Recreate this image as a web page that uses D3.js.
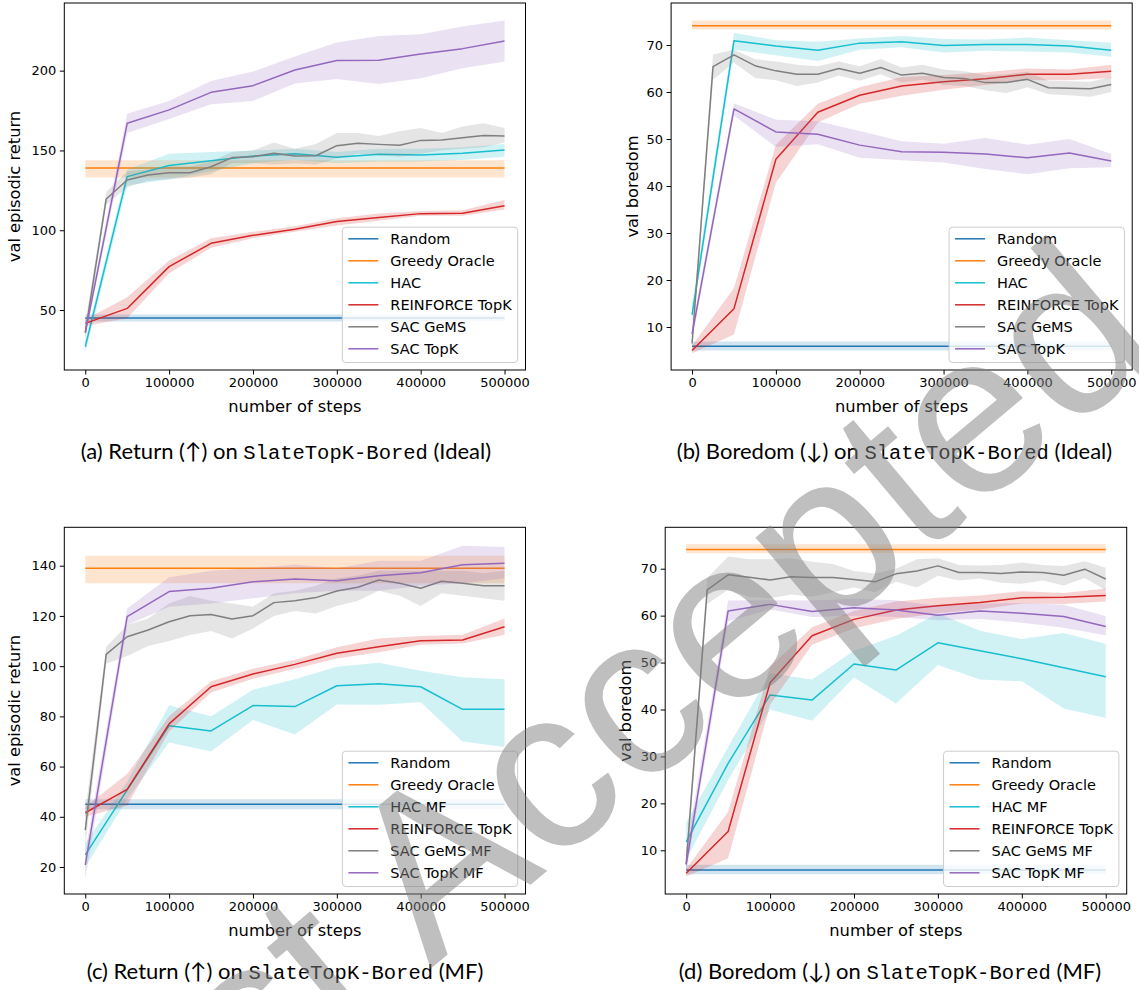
<!DOCTYPE html>
<html>
<head>
<meta charset="utf-8">
<script src="https://cdn.jsdelivr.net/npm/d3@7"></script>
<style>
  body { margin: 0; background: #fff; }
  svg { display: block; }
</style>
</head>
<body>
<svg id="fig" width="1139" height="990"></svg>
<script>
// ---------- steps (x values) ----------
const STEPS_FLAT = [0, 500000];
const STEPS_50K = [0, 50000, 100000, 150000, 200000, 250000, 300000, 350000, 400000, 450000, 500000];
const STEPS_25K = [0, 25000, 50000, 75000, 100000, 125000, 150000, 175000, 200000, 225000, 250000,
                   275000, 300000, 325000, 350000, 375000, 400000, 425000, 450000, 475000, 500000];
const X_TICKS = [0, 100000, 200000, 300000, 400000, 500000];

// ---------- (a) Return, SlateTopK-Bored (Ideal) ----------
const A_RANDOM_MEAN = [45, 45], A_RANDOM_LO = [42.8, 42.8], A_RANDOM_HI = [47.2, 47.2];
const A_GREEDY_MEAN = [139, 139], A_GREEDY_LO = [133, 133], A_GREEDY_HI = [143.8, 143.8];
const A_HAC_MEAN = [27, 133.6, 140.5, 143.6, 146.5, 148, 145.7, 147.6, 147.2, 148.2, 150.3];
const A_HAC_LO   = [23, 128, 132, 137, 142, 144, 142, 143, 143, 144, 146];
const A_HAC_HI   = [31, 138, 148, 149, 150, 151, 149, 151, 151, 152, 154];
const A_REINF_MEAN = [41.6, 51, 77.2, 91.8, 96.8, 100.6, 105.4, 108, 110.4, 110.6, 115.4];
const A_REINF_LO   = [40, 44.8, 73, 89, 95, 99, 103, 106, 109, 109, 113];
const A_REINF_HI   = [44, 58, 81, 95, 99, 102.5, 107.5, 110.5, 112, 112.5, 119];
const A_GEMS_MEAN = [35.8, 119.6, 131.5, 134.6, 136, 136, 139.8, 145.5, 146.1, 148.2, 146.5,
                     146.7, 153, 154.5, 153.8, 153.2, 156.3, 156.6, 158, 159.3, 159];
const A_GEMS_LO   = [30, 116, 127, 131, 132, 133, 135, 142, 142, 141, 142,
                     141, 145, 148, 147, 146, 148, 150, 151, 152, 155];
const A_GEMS_HI   = [42, 124, 137, 138, 140, 140, 143, 149, 150, 155, 151,
                     154, 161, 161, 159, 162, 164, 161, 165, 167, 164];
const A_TOPK_MEAN = [35.8, 167, 175.4, 186.4, 190.6, 200.4, 206.3, 206.5, 210.5, 213.8, 218.6];
const A_TOPK_LO   = [33, 161, 169.7, 179, 181, 192, 194.8, 191.7, 195.2, 201.5, 205.7];
const A_TOPK_HI   = [39, 173, 181, 193.5, 199.4, 208.8, 217.6, 221.7, 222.8, 227.6, 231.4];
const A_Y_TICKS = [50, 100, 150, 200];

// ---------- (b) Boredom, SlateTopK-Bored (Ideal) ----------
const B_RANDOM_MEAN = [5.9, 5.9], B_RANDOM_LO = [5.0, 5.0], B_RANDOM_HI = [6.9, 6.9];
const B_GREEDY_MEAN = [74.1, 74.1], B_GREEDY_LO = [73.3, 73.3], B_GREEDY_HI = [75.2, 75.2];
const B_HAC_MEAN = [12.6, 70.9, 69.8, 68.9, 70.4, 70.7, 69.9, 70.1, 70.1, 69.8, 68.9];
const B_HAC_LO   = [11, 69, 67.8, 66.6, 69, 69.5, 68.4, 68.8, 68.6, 68.4, 67.5];
const B_HAC_HI   = [15, 72.6, 71, 70.7, 71.4, 71.9, 71.3, 71.2, 71.6, 71.0, 70.5];
const B_REINF_MEAN = [5, 13.9, 45.7, 55.7, 59.3, 61.3, 62.2, 62.8, 63.8, 63.8, 64.4];
const B_REINF_LO   = [4.4, 8.4, 40.7, 53.5, 57.5, 59.2, 60.5, 61.5, 62.5, 62.5, 63];
const B_REINF_HI   = [6, 18.3, 48.8, 57.5, 61, 63.2, 63.6, 64.2, 65, 64.8, 65.8];
const B_GEMS_MEAN = [6.5, 65.4, 67.9, 65.6, 64.5, 63.8, 63.8, 65, 64, 65.2, 63.6,
                     64, 63.1, 62.9, 62, 62, 62.7, 60.9, 60.8, 60.7, 61.6];
const B_GEMS_LO   = [5.5, 62.6, 66.3, 63, 62.5, 61.3, 62, 63.5, 62.4, 63.8, 62,
                     62.6, 61.5, 61.3, 60.4, 59.8, 61, 59.5, 59.3, 59, 60];
const B_GEMS_HI   = [8, 68, 69, 67, 66.5, 65.8, 65.5, 66.5, 65.5, 67, 65.2,
                     65.8, 64.8, 64.4, 63.6, 63.8, 64.3, 62.4, 62.3, 62.2, 63.2];
const B_TOPK_MEAN = [8.5, 56.4, 51.5, 51, 48.7, 47.3, 47.2, 46.8, 46, 47, 45.3];
const B_TOPK_LO   = [7, 55, 48.3, 48.9, 46, 45.5, 45, 43.6, 42.5, 43.8, 44];
const B_TOPK_HI   = [10, 57.6, 54.1, 53.8, 51.7, 49.5, 49, 50.2, 48.8, 50, 46.8];
const B_Y_TICKS = [10, 20, 30, 40, 50, 60, 70];

// ---------- (c) Return, SlateTopK-Bored (MF) ----------
const C_RANDOM_MEAN = [45, 45], C_RANDOM_LO = [43, 43], C_RANDOM_HI = [47, 47];
const C_GREEDY_MEAN = [139, 139], C_GREEDY_LO = [133, 133], C_GREEDY_HI = [144, 144];
const C_HAC_MEAN = [24.8, 50.7, 76.3, 74.2, 84.3, 83.9, 92.2, 93, 91.8, 82.8, 82.8];
const C_HAC_LO   = [20, 47, 69.6, 66, 78.6, 72.8, 84.7, 84.6, 85.6, 70, 67.8];
const C_HAC_HI   = [29.5, 54, 84.4, 80, 90.6, 94.8, 99.8, 101.4, 98.2, 95.6, 94.8];
const C_REINF_MEAN = [41.6, 50.9, 77, 91.8, 96.9, 100.7, 105.1, 107.7, 110.1, 110.4, 115.7];
const C_REINF_LO   = [40, 44.5, 74, 89.5, 95, 99, 103, 105.5, 108.5, 109, 112.5];
const C_REINF_HI   = [44, 57, 80, 94, 99, 102.5, 107.5, 111, 112, 112.5, 119];
const C_GEMS_MEAN = [34.7, 104.7, 111.7, 114.4, 117.7, 120.1, 120.6, 118.8, 120.1, 125.3, 126,
                     127.3, 129.9, 131.4, 134.3, 133, 131, 133.8, 133, 132, 132];
const C_GEMS_LO   = [28, 101, 104, 108, 110, 112.4, 114, 111, 115, 120, 122,
                     121, 124, 126, 130, 128, 124, 129, 128, 127, 126];
const C_GEMS_HI   = [42, 107.7, 116.4, 119, 125, 127.9, 126, 125, 123.7, 129, 130,
                     132, 135, 136, 138, 138, 138, 138, 138, 137, 138];
const C_TOPK_MEAN = [20.8, 119.7, 129.7, 131, 133.6, 134.7, 134, 136, 137.2, 140.4, 141];
const C_TOPK_LO   = [15, 116.4, 123.7, 125, 127, 129, 130, 130, 132, 133, 135];
const C_TOPK_HI   = [26, 123, 135.4, 138, 139, 140.5, 139, 142, 142, 148, 147.5];
const C_Y_TICKS = [20, 40, 60, 80, 100, 120, 140];

// ---------- (d) Boredom, SlateTopK-Bored (MF) ----------
const D_RANDOM_MEAN = [5.8, 5.8], D_RANDOM_LO = [4.9, 4.9], D_RANDOM_HI = [6.9, 6.9];
const D_GREEDY_MEAN = [74.1, 74.1], D_GREEDY_LO = [73.3, 73.3], D_GREEDY_HI = [75.2, 75.2];
const D_HAC_MEAN = [11.8, 28.5, 43.1, 42, 49.7, 48.4, 54.2, 52.5, 50.8, 48.9, 47];
const D_HAC_LO   = [8, 25, 40, 37.6, 46.8, 41.3, 49.5, 46.4, 46, 40.2, 38.2];
const D_HAC_HI   = [16, 32, 47.7, 46.4, 52.5, 55.7, 60.5, 56.8, 55, 56.3, 54];
const D_REINF_MEAN = [5.1, 14, 45.7, 55.7, 59.2, 61.2, 62.1, 62.8, 63.8, 63.9, 64.3];
const D_REINF_LO   = [4.4, 8.3, 41, 53.8, 57.3, 59.3, 60.5, 61.3, 62.6, 62.5, 63];
const D_REINF_HI   = [6, 18.2, 49.1, 57.5, 61, 63, 63.8, 64.3, 65.2, 64.8, 65.8];
const D_GEMS_MEAN = [7, 65.5, 68.7, 68.2, 67.6, 68.3, 68.1, 68.1, 67.7, 67.2, 68.9,
                     69.5, 70.6, 69.2, 69.2, 69, 69.3, 69.2, 68.6, 69.9, 67.8];
const D_GEMS_LO   = [5, 62.5, 65.5, 64, 63.7, 64.5, 64, 65, 66, 65, 67.2,
                     66, 68.5, 67.5, 67.9, 67, 66.8, 67.5, 66.4, 68, 65.4];
const D_GEMS_HI   = [9, 68, 72.6, 72, 72, 72.2, 71.5, 71, 69.5, 69, 70,
                     72, 72.2, 70.8, 70.7, 70.8, 71.3, 70.8, 70.6, 71.6, 70.2];
const D_TOPK_MEAN = [7, 61, 62.4, 60.9, 61.7, 61.2, 60.1, 61, 60.5, 59.8, 57.7];
const D_TOPK_LO   = [5, 58.8, 61.3, 59.7, 60, 59.7, 59, 59.3, 58.5, 57.4, 55.8];
const D_TOPK_HI   = [10, 63.2, 63.3, 63.2, 63.6, 63.3, 62, 62.6, 62.7, 62.3, 59.9];
const D_Y_TICKS = [10, 20, 30, 40, 50, 60, 70];

// ---------- colours (matplotlib tab10) ----------
const C_BLUE = "#1f77b4", C_ORANGE = "#ff7f0e", C_CYAN = "#17becf",
      C_RED = "#d62728", C_GRAY = "#7f7f7f", C_PURPLE = "#9467bd";

function series(name, color, steps, mean, lo, hi) {
  return { name, color, rows: steps.map((s, i) => ({ s, m: mean[i], lo: lo[i], hi: hi[i] })) };
}

const panels = [
  {
    box: { l: 64.3, t: 3, r: 525.5, b: 370 }, yLim: [12.4, 242.4], yTicks: A_Y_TICKS,
    yLabel: "val episodic return", yLabelX: 14,
    caption: { x: 286, y: 459, tag: "(a) Return (\u2191) on ", tail: " (Ideal)" },
    series: [
      series("Random", C_BLUE, STEPS_FLAT, A_RANDOM_MEAN, A_RANDOM_LO, A_RANDOM_HI),
      series("Greedy Oracle", C_ORANGE, STEPS_FLAT, A_GREEDY_MEAN, A_GREEDY_LO, A_GREEDY_HI),
      series("HAC", C_CYAN, STEPS_50K, A_HAC_MEAN, A_HAC_LO, A_HAC_HI),
      series("REINFORCE TopK", C_RED, STEPS_50K, A_REINF_MEAN, A_REINF_LO, A_REINF_HI),
      series("SAC GeMS", C_GRAY, STEPS_25K, A_GEMS_MEAN, A_GEMS_LO, A_GEMS_HI),
      series("SAC TopK", C_PURPLE, STEPS_50K, A_TOPK_MEAN, A_TOPK_LO, A_TOPK_HI)
    ]
  },
  {
    box: { l: 671.1, t: 3, r: 1132.2, b: 370 }, yLim: [0.85, 78.94], yTicks: B_Y_TICKS,
    yLabel: "val boredom", yLabelX: 632,
    caption: { x: 894.5, y: 459, tag: "(b) Boredom (\u2193) on ", tail: " (Ideal)" },
    series: [
      series("Random", C_BLUE, STEPS_FLAT, B_RANDOM_MEAN, B_RANDOM_LO, B_RANDOM_HI),
      series("Greedy Oracle", C_ORANGE, STEPS_FLAT, B_GREEDY_MEAN, B_GREEDY_LO, B_GREEDY_HI),
      series("HAC", C_CYAN, STEPS_50K, B_HAC_MEAN, B_HAC_LO, B_HAC_HI),
      series("REINFORCE TopK", C_RED, STEPS_50K, B_REINF_MEAN, B_REINF_LO, B_REINF_HI),
      series("SAC GeMS", C_GRAY, STEPS_25K, B_GEMS_MEAN, B_GEMS_LO, B_GEMS_HI),
      series("SAC TopK", C_PURPLE, STEPS_50K, B_TOPK_MEAN, B_TOPK_LO, B_TOPK_HI)
    ]
  },
  {
    box: { l: 64.3, t: 527.3, r: 525.5, b: 894 }, yLim: [9.25, 155.3], yTicks: C_Y_TICKS,
    yLabel: "val episodic return", yLabelX: 14,
    caption: { x: 285, y: 979, tag: "(c) Return (\u2191) on ", tail: " (MF)" },
    series: [
      series("Random", C_BLUE, STEPS_FLAT, C_RANDOM_MEAN, C_RANDOM_LO, C_RANDOM_HI),
      series("Greedy Oracle", C_ORANGE, STEPS_FLAT, C_GREEDY_MEAN, C_GREEDY_LO, C_GREEDY_HI),
      series("HAC MF", C_CYAN, STEPS_50K, C_HAC_MEAN, C_HAC_LO, C_HAC_HI),
      series("REINFORCE TopK", C_RED, STEPS_50K, C_REINF_MEAN, C_REINF_LO, C_REINF_HI),
      series("SAC GeMS MF", C_GRAY, STEPS_25K, C_GEMS_MEAN, C_GEMS_LO, C_GEMS_HI),
      series("SAC TopK MF", C_PURPLE, STEPS_50K, C_TOPK_MEAN, C_TOPK_LO, C_TOPK_HI)
    ]
  },
  {
    box: { l: 665.2, t: 527.3, r: 1126.7, b: 894 }, yLim: [0.69, 78.82], yTicks: D_Y_TICKS,
    yLabel: "val boredom", yLabelX: 625,
    caption: { x: 890, y: 979, tag: "(d) Boredom (\u2193) on ", tail: " (MF)" },
    series: [
      series("Random", C_BLUE, STEPS_FLAT, D_RANDOM_MEAN, D_RANDOM_LO, D_RANDOM_HI),
      series("Greedy Oracle", C_ORANGE, STEPS_FLAT, D_GREEDY_MEAN, D_GREEDY_LO, D_GREEDY_HI),
      series("HAC MF", C_CYAN, STEPS_50K, D_HAC_MEAN, D_HAC_LO, D_HAC_HI),
      series("REINFORCE TopK", C_RED, STEPS_50K, D_REINF_MEAN, D_REINF_LO, D_REINF_HI),
      series("SAC GeMS MF", C_GRAY, STEPS_25K, D_GEMS_MEAN, D_GEMS_LO, D_GEMS_HI),
      series("SAC TopK MF", C_PURPLE, STEPS_50K, D_TOPK_MEAN, D_TOPK_LO, D_TOPK_HI)
    ]
  }
];

const FONT = "'DejaVu Sans', sans-serif";
const TICK_SIZE = 13, LABEL_SIZE = 16.3, LEGEND_SIZE = 14.5;
const svg = d3.select("#fig");
svg.append("rect").attr("width", 1139).attr("height", 990).attr("fill", "#fff");

panels.forEach((p, pi) => {
  const { l, t, r, b } = p.box;
  const x = d3.scaleLinear().domain([-25000, 525000]).range([l, r]);
  const y = d3.scaleLinear().domain(p.yLim).range([b, t]);
  const g = svg.append("g");

  const clipId = "clip" + pi;
  g.append("clipPath").attr("id", clipId)
    .append("rect").attr("x", l).attr("y", t).attr("width", r - l).attr("height", b - t);

  const plot = g.append("g").attr("clip-path", `url(#${clipId})`);
  const area = d3.area().x(d => x(d.s)).y0(d => y(d.lo)).y1(d => y(d.hi));
  const line = d3.line().x(d => x(d.s)).y(d => y(d.m));

  p.series.forEach(s => {
    plot.append("path").attr("d", area(s.rows))
      .attr("fill", s.color).attr("fill-opacity", 0.2).attr("stroke", "none");
    plot.append("path").attr("d", line(s.rows))
      .attr("fill", "none").attr("stroke", s.color).attr("stroke-width", 1.5)
      .attr("stroke-linejoin", "round");
  });

  // axes
  const xAxis = d3.axisBottom(x).tickValues(X_TICKS).tickFormat(d3.format("d"))
    .tickSize(4.5).tickPadding(3.5);
  const yAxis = d3.axisLeft(y).tickValues(p.yTicks).tickFormat(d3.format("d"))
    .tickSize(4.5).tickPadding(3.5);
  const gx = g.append("g").attr("transform", `translate(0,${b})`).call(xAxis);
  const gy = g.append("g").attr("transform", `translate(${l},0)`).call(yAxis);
  [gx, gy].forEach(ax => {
    ax.select(".domain").remove();
    ax.selectAll(".tick line").attr("stroke", "#000").attr("stroke-width", 1);
    ax.selectAll(".tick text").attr("fill", "#000")
      .style("font-family", FONT).style("font-size", TICK_SIZE + "px");
  });

  // frame
  g.append("rect").attr("x", l).attr("y", t).attr("width", r - l).attr("height", b - t)
    .attr("fill", "none").attr("stroke", "#000").attr("stroke-width", 1);

  // axis labels
  g.append("text").attr("x", (l + r) / 2).attr("y", b + 36)
    .attr("dominant-baseline", "central").attr("text-anchor", "middle")
    .style("font-family", FONT).style("font-size", LABEL_SIZE + "px")
    .text("number of steps");
  g.append("text")
    .attr("transform", `translate(${p.yLabelX},${(t + b) / 2}) rotate(-90)`)
    .attr("dominant-baseline", "central").attr("text-anchor", "middle")
    .style("font-family", FONT).style("font-size", LABEL_SIZE + "px")
    .text(p.yLabel);

  // legend (lower right)
  const leg = g.append("g");
  const pad = 6, handle = 30, gap = 12, rowH = 22, topPad = 11.6, botPad = 13.7;
  const texts = leg.selectAll("text.lab").data(p.series).join("text").attr("class", "lab")
    .style("font-family", FONT).style("font-size", LEGEND_SIZE + "px")
    .attr("dominant-baseline", "central").text(d => d.name);
  let maxW = 0;
  texts.each(function () { maxW = Math.max(maxW, this.getComputedTextLength()); });
  const lw = pad + handle + gap + maxW + pad;
  const lh = topPad + rowH * (p.series.length - 1) + botPad;
  const lx = r - 7.8 - lw, ly = b - 7.5 - lh;
  leg.insert("rect", "text").attr("x", lx).attr("y", ly).attr("width", lw).attr("height", lh)
    .attr("rx", 3.5).attr("fill", "#fff").attr("fill-opacity", 0.8)
    .attr("stroke", "#cccccc").attr("stroke-width", 1);
  p.series.forEach((s, i) => {
    const cy = ly + topPad + rowH * i;
    leg.append("line").attr("x1", lx + pad).attr("x2", lx + pad + handle)
      .attr("y1", cy).attr("y2", cy).attr("stroke", s.color).attr("stroke-width", 1.5);
  });
  texts.attr("x", lx + pad + handle + gap).attr("y", (d, i) => ly + topPad + rowH * i);

  // caption
  const cap = svg.append("text").attr("x", p.caption.x).attr("y", p.caption.y)
    .attr("text-anchor", "middle").attr("fill", "#000")
    .style("font-family", "Lato, 'Open Sans', sans-serif").style("font-size", "22px");
  cap.append("tspan").text(p.caption.tag);
  cap.append("tspan").style("font-family", "'Liberation Mono', 'DejaVu Sans Mono', monospace")
    .style("font-size", "20.5px").text("SlateTopK-Bored");
  cap.append("tspan").text(p.caption.tail);
});

// diagonal page stamp
const stamp = { x: 68, y: 1273, angle: -40, size: 230 };
svg.append("text")
  .attr("transform", `translate(${stamp.x},${stamp.y}) rotate(${stamp.angle})`)
  .style("font-family", "'Liberation Sans', Arial, sans-serif")
  .style("font-size", stamp.size + "px")
  .attr("fill", "#7f7f7f").attr("fill-opacity", 0.5)
  .text("Just Accepted");
</script>
</body>
</html>
